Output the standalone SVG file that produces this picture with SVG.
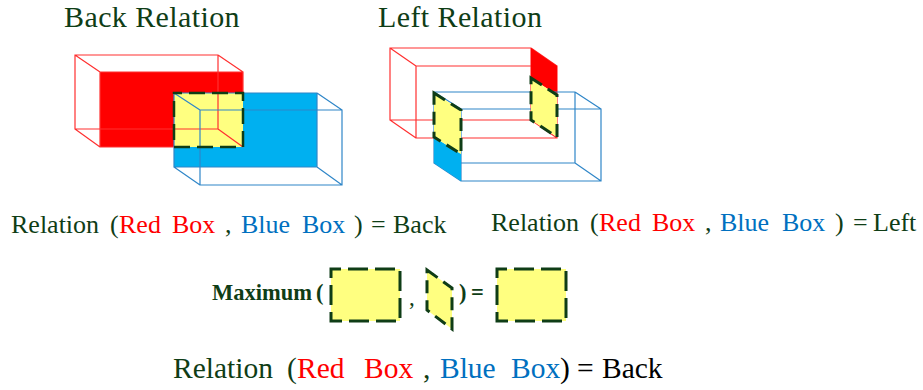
<svg xmlns="http://www.w3.org/2000/svg" width="923" height="390" viewBox="0 0 923 390">
<style>
text{font-family:"Liberation Serif","Times New Roman",serif;fill:#0f3d16}
.t{font-size:30px;letter-spacing:.4px}.m{font-size:26px}.b{font-size:29.5px}
.r{fill:#ff0000}.bl{fill:#0070c0}.k{fill:#000}
.rl{fill:none;stroke:#ff3030;stroke-width:1.2}
.bll{fill:none;stroke:#2f86c8;stroke-width:1.2}
.p{fill:#ffff80;stroke:#0f3d16;stroke-width:3;stroke-dasharray:13 7}
.y{fill:#ffff80;stroke:#0f3d16;stroke-width:3;stroke-dasharray:20 7;stroke-dashoffset:10}
.n{fill:#ffff80;stroke:none}
.d{fill:none;stroke:#0f3d16;stroke-width:2.5;stroke-dasharray:16 7;stroke-dashoffset:8}
</style>
<rect width="923" height="390" fill="#fff"/>
<g id="back-relation">
<text class="t" x="64" y="27">Back Relation</text>
<rect x="100" y="72" width="143" height="75" fill="#ff0000"/>
<path class="rl" d="M75 55H218V129H75ZM75 55L100 72M218 55L243 72M75 129L100 147M218 129L243 147M100 72H243V147H100Z"/>
<rect x="174" y="93" width="143" height="74" fill="#00b0f0"/>
<rect class="n" x="174" y="93" width="69" height="54"/>
<path class="rl" d="M218 93V129H174M218 129L243 147"/>
<path class="bll" d="M174 93H317V167H174ZM174 93L200 110M317 93L342 110M174 167L200 185M317 167L342 185M200 110H342V185H200Z"/>
<rect class="d" x="174" y="93" width="69" height="54"/>
</g>
<g id="left-relation">
<text class="t" x="378" y="27">Left Relation</text>
<path class="rl" d="M390 48H531V120H390ZM390 48L416 66M531 48L557 66M390 120L416 138M531 120L557 138M416 66H557V138H416Z"/>
<path fill="#ff0000" d="M531 48L557 66V95L531 78Z"/>
<path class="bll" d="M434 92H575V163H434ZM434 92L461 109M575 92L601 109M434 163L461 181M575 163L601 181M461 109H601V181H461Z"/>
<path fill="#00b0f0" d="M434 137L461 154V181L434 163Z"/>
<path class="p" d="M434 93L461 110V154L434 137Z"/>
<path class="p" d="M531 78L557 95V137L531 120Z"/>
</g>
<g id="relation-back">
<text class="m" y="233"><tspan x="11">Relation</tspan><tspan x="110">(</tspan><tspan class="r" x="119">Red</tspan><tspan class="r" x="172">Box</tspan><tspan x="225">,</tspan><tspan class="bl" x="241">Blue</tspan><tspan class="bl" x="302">Box</tspan><tspan x="354">)</tspan><tspan x="371">=</tspan><tspan x="393">Back</tspan></text>
</g>
<g id="relation-left">
<text class="m" y="231"><tspan x="491">Relation</tspan><tspan x="590">(</tspan><tspan class="r" x="599">Red</tspan><tspan class="r" x="652">Box</tspan><tspan x="705">,</tspan><tspan class="bl" x="720">Blue</tspan><tspan class="bl" x="782">Box</tspan><tspan x="835">)</tspan><tspan x="853">=</tspan><tspan x="873">Left</tspan></text>
</g>
<g id="maximum">
<text x="212" y="300" font-size="22.5" font-weight="bold">Maximum<tspan x="316">(</tspan></text>
<rect class="y" x="331" y="269" width="69" height="52"/>
<text x="409" y="305" font-size="23">,</text>
<path class="p" d="M427 270L452 288V329L427 310Z"/>
<text x="459" y="300" font-size="22.5" font-weight="bold">)<tspan x="471">=</tspan></text>
<rect class="y" x="497" y="269" width="69" height="52"/>
</g>
<g id="relation-result">
<text class="b" y="378"><tspan x="173">Relation</tspan><tspan x="287">(</tspan><tspan class="r" x="297">Red</tspan><tspan class="r" x="364">Box</tspan><tspan x="423">,</tspan><tspan class="bl" x="440">Blue</tspan><tspan class="bl" x="511">Box</tspan><tspan class="k" x="560">)</tspan><tspan class="k" x="577">=</tspan><tspan class="k" x="602">Back</tspan></text>
</g>
</svg>
